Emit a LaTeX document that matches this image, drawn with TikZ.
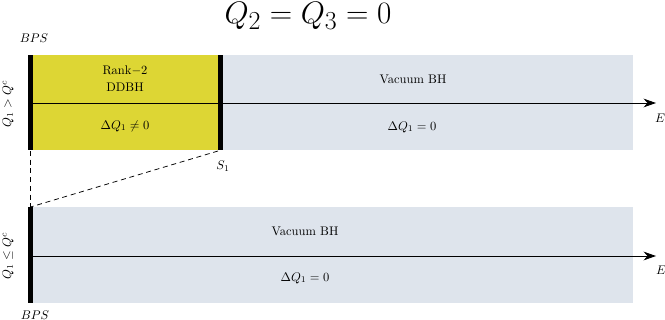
\documentclass[tikz,border=0pt]{standalone}
\usetikzlibrary{arrows.meta}
\definecolor{ddyel}{RGB}{221,214,52}
\definecolor{vacblue}{RGB}{222,228,236}
\begin{document}
\begin{tikzpicture}[x=0.8pt,y=-0.8pt,
  axisline/.style={line width=0.7pt,-{Stealth[length=10pt,width=7pt]}},
  guide/.style={dashed,line width=0.6pt,dash pattern=on 4pt off 3pt},
  txt/.style={inner sep=0pt,font=\normalsize}
]
\useasboundingbox (0,0) rectangle (665,320);
% title
\node[txt,font=\Huge,anchor=base] (title) at (308,24) {$Q_2 = Q_3 = 0$};
% top band
\fill[vacblue] (31,55) rectangle (633,150);
\fill[ddyel] (31,55) rectangle (220,150);
\fill[black] (28,55) rectangle (33,150);
\fill[black] (218,55) rectangle (222.5,150);
\coordinate (a1s) at (31,103);
\coordinate (a1e) at (656,103);
\draw[axisline] (a1s) -- (a1e);
% bottom band
\fill[vacblue] (31,207) rectangle (633,303);
\fill[black] (28,207) rectangle (33,303);
\coordinate (a2s) at (31,256);
\coordinate (a2e) at (656,256);
\draw[axisline] (a2s) -- (a2e);
% dashed guides
\coordinate (tl) at (30.5,151);
\coordinate (tr) at (218,151);
\coordinate (bl) at (30.5,207);
\draw[guide] (tl) -- (bl);
\draw[guide] (tr) -- (bl);
% labels
\node[txt] (bps1) at (34,38) {$BPS$};
\node[txt] (bps2) at (35,315) {$BPS$};
\node[txt,rotate=90] (q1) at (8,104) {$Q_1 > Q^c$};
\node[txt,rotate=90] (q2) at (8,256) {$Q_1 \leq Q^c$};
\node[txt] (rank) at (125,71) {Rank$-$2};
\node[txt] (ddbh) at (125,87.5) {DDBH};
\node[txt] (dq1) at (125,126) {$\Delta Q_1 \neq 0$};
\node[txt] (vac1) at (413,79) {Vacuum BH};
\node[txt] (dq2) at (412,127) {$\Delta Q_1 = 0$};
\node[txt] (vac2) at (305,231) {Vacuum BH};
\node[txt] (dq3) at (305,278) {$\Delta Q_1 = 0$};
\node[txt] (s1) at (223,166) {$S_1$};
\node[txt] (e1) at (660,118) {$E$};
\node[txt] (e2) at (661,270) {$E$};
\end{tikzpicture}
\end{document}
